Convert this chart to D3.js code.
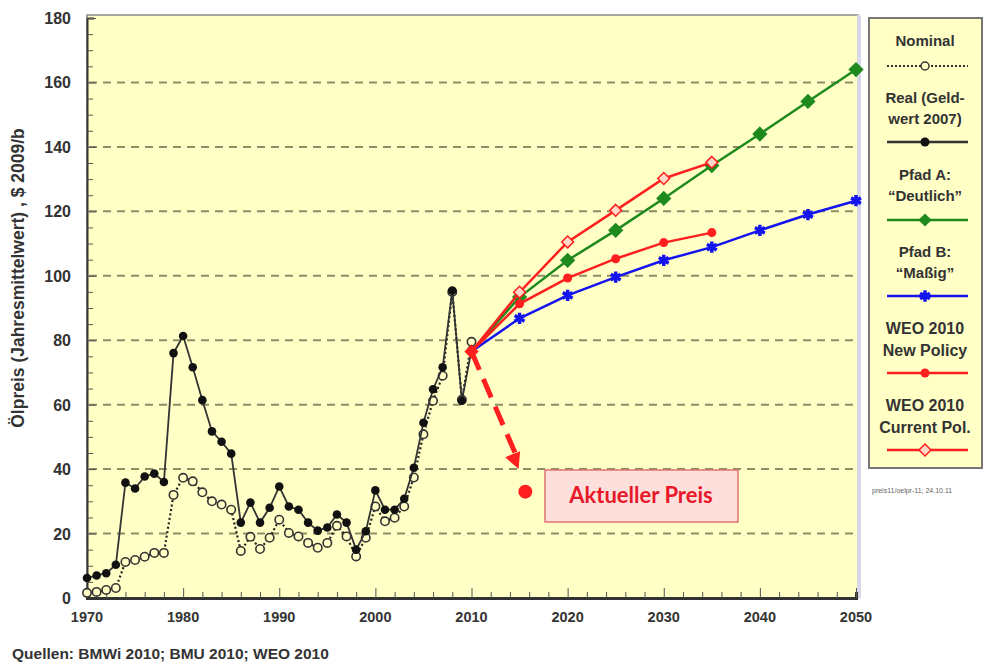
<!DOCTYPE html>
<html><head><meta charset="utf-8">
<script src="https://cdn.jsdelivr.net/npm/d3@7"></script>
<style>
body{margin:0;background:#fff;}
text{font-family:"Liberation Sans",Arial,sans-serif;}
</style></head>
<body><svg id="c" width="986" height="664"></svg>
<script>
// ---- data ----
const histYears = d3.range(1970, 2011);
const realValues = [6.2,7,7.7,10.3,35.8,34,37.7,38.6,36,76,81.3,71.6,61.4,51.7,48.5,44.8,23.4,29.6,23.4,28,34.6,28.4,27.4,23.4,20.9,21.9,25.9,23.4,15,20.7,33.4,27.4,27.4,30.8,40.4,54.4,64.8,71.6,95.4,61.2,77];
const nominalValues = [1.6,1.9,2.5,3.1,11.2,11.8,12.8,14,14,32,37.3,36.2,32.8,30,29,27.4,14.6,19,15.2,18.7,24.3,20.2,19.1,17.1,15.6,17.1,22.4,19.1,12.9,18.7,28.4,23.8,24.9,28.4,37.4,50.8,61.2,69,95,61.5,79.5];
const projYears = [2010,2015,2020,2025,2030,2035,2040,2045,2050];
const pfadA = [76.5,93.4,104.8,114.1,124,134.2,144,154.1,164];
const pfadB = [76.5,86.8,93.9,99.6,104.8,108.9,114.1,119,123.3];
const weoYears = [2010,2015,2020,2025,2030,2035];
const weoNew = [76.5,91.3,99.3,105.3,110.3,113.4];
const weoCurrent = [76.5,94.9,110.5,120.3,130.2,135.2];
const aktuellerPreis = {from:[2010,76.5], arrowTo:[2014.9,40], point:[2015.6,33]};
const yTicks = [0,20,40,60,80,100,120,140,160,180];
const xTicks = [1970,1980,1990,2000,2010,2020,2030,2040,2050];
const legendItems = [
  {lines:["Nominal"], key:"nominal"},
  {lines:["Real (Geld-","wert 2007)"], key:"real"},
  {lines:["Pfad A:","\u201cDeutlich\u201d"], key:"a"},
  {lines:["Pfad B:","\u201cMaßig\u201d"], key:"b"},
  {lines:["WEO 2010","New Policy"], key:"new"},
  {lines:["WEO 2010","Current Pol."], key:"cur"}
];

const svg = d3.select("#c");
const X0=87, X1=856, Y0=598, Y1=18;
const x = d3.scaleLinear().domain([1970,2050]).range([X0,X1]);
const y = d3.scaleLinear().domain([0,180]).range([Y0,Y1]);

const green="#1e8a1e", blue="#1414f0", red="#ff1f1f", txt="#333";

// plot background
svg.append("rect").attr("x",X0).attr("y",Y1-3).attr("width",X1-X0+2).attr("height",Y0-Y1+3)
  .attr("fill","#ffffc6").attr("stroke","#8a8a8a").attr("stroke-width",1.5);
svg.append("line").attr("x1",X1+3).attr("x2",X1+3).attr("y1",Y1-3).attr("y2",Y0).attr("stroke","#d8d8e8").attr("stroke-width",4);

// gridlines
svg.append("g").selectAll("line").data(yTicks.filter(t=>t>0&&t<180)).join("line")
  .attr("x1",X0+2).attr("x2",X1).attr("y1",d=>y(d)).attr("y2",d=>y(d))
  .attr("stroke","#8d8d68").attr("stroke-width",2).attr("stroke-dasharray","8,6");

// axes
const yAxis = d3.axisLeft(y).tickValues(d3.range(0,181,5)).tickSize(-7).tickFormat("");
const gy = svg.append("g").attr("transform",`translate(${X0},0)`).call(yAxis);
gy.selectAll(".tick line").attr("stroke","#555").attr("x2",d=>d%20===0?9:6);
gy.select(".domain").attr("stroke","#333").attr("stroke-width",2);
const xAxis = d3.axisBottom(x).tickValues(d3.range(1970,2051,2)).tickSize(-6).tickFormat("");
const gx = svg.append("g").attr("transform",`translate(0,${Y0})`).call(xAxis);
gx.selectAll(".tick line").attr("stroke","#555").attr("y2",d=>d%10===0?-10:-6);
gx.select(".domain").attr("stroke","#333").attr("stroke-width",3);

svg.append("g").selectAll("text").data(yTicks).join("text")
  .attr("x",71).attr("y",d=>y(d)+6).attr("text-anchor","end")
  .attr("font-size",16).attr("font-weight","bold").attr("fill",txt).text(d=>d);
svg.append("g").selectAll("text").data(xTicks).join("text")
  .attr("x",d=>x(d)).attr("y",622).attr("text-anchor","middle")
  .attr("font-size",14.5).attr("font-weight","bold").attr("fill",txt).text(d=>d);

svg.append("text").attr("transform","translate(24,278) rotate(-90)").attr("text-anchor","middle")
  .attr("font-size",17.5).attr("font-weight","bold").attr("fill",txt)
  .text("Ölpreis (Jahresmittelwert) , $ 2009/b");
svg.append("text").attr("x",12).attr("y",659).attr("font-size",15.5).attr("font-weight","bold").attr("fill",txt)
  .text("Quellen: BMWi 2010; BMU 2010; WEO 2010");
svg.append("text").attr("x",872).attr("y",493).attr("font-size",7).attr("fill","#666")
  .text("preis11/oelpr-11; 24.10.11");

const line = d3.line().x(d=>x(d[0])).y(d=>y(d[1]));
const zip=(a,b)=>a.map((v,i)=>[v,b[i]]);

// nominal
const nom = zip(histYears,nominalValues);
svg.append("path").datum(nom).attr("d",line).attr("fill","none").attr("stroke","#222").attr("stroke-width",2.2).attr("stroke-dasharray","2,2.5");
svg.append("g").selectAll("circle").data(nom).join("circle").attr("cx",d=>x(d[0])).attr("cy",d=>y(d[1])).attr("r",4.2)
  .attr("fill","#ffffc6").attr("stroke","#333").attr("stroke-width",1.6);
// real
const real = zip(histYears,realValues);
svg.append("path").datum(real).attr("d",line).attr("fill","none").attr("stroke","#333").attr("stroke-width",1.8);
svg.append("g").selectAll("circle").data(real).join("circle").attr("cx",d=>x(d[0])).attr("cy",d=>y(d[1])).attr("r",4.3).attr("fill","#111");

// projections
function diamond(g,data,color,fill,size){
  g.selectAll("path.m").data(data).join("path").attr("class","m")
    .attr("transform",d=>`translate(${x(d[0])},${y(d[1])})`)
    .attr("d",d3.symbol(d3.symbolDiamond2,size)).attr("fill",fill).attr("stroke",color).attr("stroke-width",1.5);
}
const a = zip(projYears,pfadA), b = zip(projYears,pfadB), nw = zip(weoYears,weoNew), cu = zip(weoYears,weoCurrent);
svg.append("path").datum(b).attr("d",line).attr("fill","none").attr("stroke",blue).attr("stroke-width",2.5);
svg.append("g").selectAll("path").data(b.slice(1)).join("path")
  .attr("transform",d=>`translate(${x(d[0])},${y(d[1])})`)
  .attr("d",d3.symbol(d3.symbolAsterisk,90)).attr("stroke",blue).attr("stroke-width",3.5);
svg.append("path").datum(a).attr("d",line).attr("fill","none").attr("stroke",green).attr("stroke-width",2.5);
diamond(svg.append("g"),a.slice(1),green,green,110);
svg.append("path").datum(nw).attr("d",line).attr("fill","none").attr("stroke",red).attr("stroke-width",2.5);
svg.append("g").selectAll("circle").data(nw.slice(1)).join("circle").attr("cx",d=>x(d[0])).attr("cy",d=>y(d[1])).attr("r",4.5).attr("fill",red);
svg.append("path").datum(cu).attr("d",line).attr("fill","none").attr("stroke",red).attr("stroke-width",2.5);
diamond(svg.append("g"),cu.slice(1),red,"#ffd8c8",90);
// 2010 start marker
svg.append("path").attr("transform",`translate(${x(2010)},${y(76.5)})`).attr("d",d3.symbol(d3.symbolDiamond2,130)).attr("fill",red);

// Aktueller Preis arrow
const ap = aktuellerPreis;
svg.append("line").attr("x1",x(ap.from[0])).attr("y1",y(ap.from[1])).attr("x2",x(ap.arrowTo[0])).attr("y2",y(ap.arrowTo[1])-8)
  .attr("stroke",red).attr("stroke-width",5).attr("stroke-dasharray","20,10");
{
  const x2=x(ap.arrowTo[0]), y2=y(ap.arrowTo[1]);
  const ang=Math.atan2(y2-y(ap.from[1]), x2-x(ap.from[0]));
  const L=16,W=8;
  const p=[[x2,y2],[x2-L*Math.cos(ang)+W*Math.sin(ang), y2-L*Math.sin(ang)-W*Math.cos(ang)],[x2-L*Math.cos(ang)-W*Math.sin(ang), y2-L*Math.sin(ang)+W*Math.cos(ang)]];
  svg.append("path").attr("d","M"+p.join("L")+"Z").attr("fill",red);
}
svg.append("circle").attr("cx",x(ap.point[0])).attr("cy",y(ap.point[1])).attr("r",7).attr("fill",red);
svg.append("rect").attr("x",545).attr("y",470).attr("width",193).attr("height",52).attr("fill","#fde0dc").attr("stroke","#e07070").attr("stroke-width",1.5);
svg.append("text").attr("x",641).attr("y",503).attr("text-anchor","middle")
  .style("font-family","Lato, 'Open Sans', sans-serif")
  .attr("font-size",22).attr("font-weight","bold").attr("fill","#e8182a").text("Aktueller Preis");

// legend
const lg = svg.append("g");
lg.append("rect").attr("x",869).attr("y",18).attr("width",113).attr("height",450).attr("fill","#ffffc6").attr("stroke","#777").attr("stroke-width",2);
const cx=925;
const textY=[[46],[103,124],[180,201],[257,278],[334,356],[411,433]];
const symY=[66,142,220,296,373,450];
legendItems.forEach((it,i)=>{
  it.lines.forEach((s,j)=>lg.append("text").attr("x",cx).attr("y",textY[i][j]).attr("text-anchor","middle")
    .attr("font-size",i>=4?16:15).attr("font-weight","bold").attr("fill",txt).text(s));
  const sy=symY[i];
  const l=lg.append("line").attr("x1",887).attr("x2",968).attr("y1",sy).attr("y2",sy);
  if(it.key==="nominal"){ l.attr("stroke","#333").attr("stroke-width",2).attr("stroke-dasharray","2,2");
    lg.append("circle").attr("cx",cx).attr("cy",sy).attr("r",4).attr("fill","#ffffc6").attr("stroke","#333").attr("stroke-width",1.5);}
  if(it.key==="real"){ l.attr("stroke","#333").attr("stroke-width",2.5);
    lg.append("circle").attr("cx",cx).attr("cy",sy).attr("r",4.5).attr("fill","#111");}
  if(it.key==="a"){ l.attr("stroke",green).attr("stroke-width",2.5);
    lg.append("path").attr("transform",`translate(${cx},${sy})`).attr("d",d3.symbol(d3.symbolDiamond2,110)).attr("fill",green);}
  if(it.key==="b"){ l.attr("stroke",blue).attr("stroke-width",2.5);
    lg.append("path").attr("transform",`translate(${cx},${sy})`).attr("d",d3.symbol(d3.symbolAsterisk,90)).attr("stroke",blue).attr("stroke-width",3.5);}
  if(it.key==="new"){ l.attr("stroke",red).attr("stroke-width",2.5);
    lg.append("circle").attr("cx",cx).attr("cy",sy).attr("r",4.5).attr("fill",red);}
  if(it.key==="cur"){ l.attr("stroke",red).attr("stroke-width",2.5);
    lg.append("path").attr("transform",`translate(${cx},${sy})`).attr("d",d3.symbol(d3.symbolDiamond2,90)).attr("fill","#ffd8c8").attr("stroke",red).attr("stroke-width",1.5);}
});
</script></body></html>
